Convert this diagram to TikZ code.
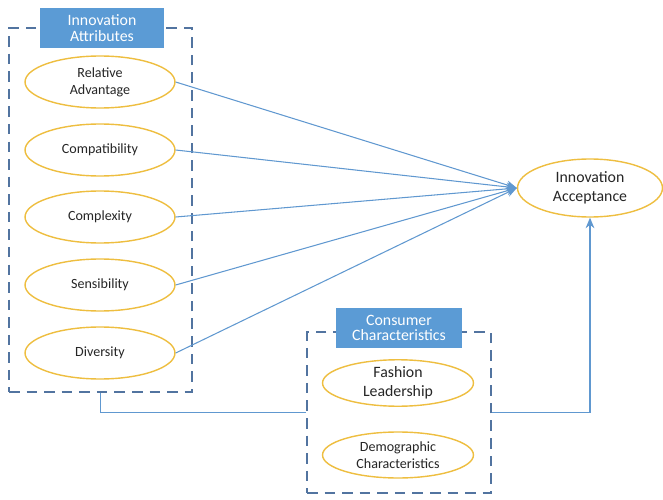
\documentclass[tikz,border=0pt]{standalone}
\usepackage{fontspec}
\setmainfont{Carlito}
\usetikzlibrary{arrows.meta,positioning,shapes.geometric}
\definecolor{ringGold}{RGB}{238,190,64}
\definecolor{linkBlue}{RGB}{96,152,208}
\definecolor{frameBlue}{RGB}{82,116,160}
\definecolor{tagBlue}{RGB}{91,155,213}

\begin{document}
\begin{tikzpicture}[x=0.02cm,y=-0.02cm,
	attr/.style={ellipse,draw=ringGold,thick,fill=white,minimum width=3cm,minimum height=1.04cm,inner sep=0pt,align=center,font=\footnotesize,text=black!85},
	grouptag/.style={fill=tagBlue,text=white,align=center,font=\small,inner sep=0pt,minimum height=0.8cm},
	groupframe/.style={draw=frameBlue,thick,dash pattern=on 6pt off 4pt,minimum width=3.66cm},
	link/.style={draw=linkBlue,semithick,-{Stealth[length=6pt,width=5pt]}}]
		\useasboundingbox (0,0) rectangle (663,500);
		% innovation attributes
		\node[groupframe,minimum height=7.28cm] (attrframe) at (100.5,210) {};
		\node[grouptag,minimum width=2.48cm] (attrtag) at (102,28) {Innovation\\[-2pt]Attributes};
		\node[attr] (relative) at (100,82) {Relative\\Advantage};
		\node[attr] (compat) at (100,150) {Compatibility};
		\node[attr] (complex) at (100,217) {Complexity};
		\node[attr] (sensib) at (100,285) {Sensibility};
		\node[attr] (divers) at (100,353) {Diversity};
		% consumer characteristics
		\node[groupframe,minimum width=3.68cm,minimum height=3.22cm] (consframe) at (399,412.5) {};
		\node[grouptag,minimum width=2.52cm] (constag) at (399,328) {Consumer\\[-2pt]Characteristics};
		\node[attr,font=\small,minimum width=3.02cm,minimum height=0.92cm] (fashion) at (398,383) {Fashion\\Leadership};
		\node[attr,minimum width=3.02cm,minimum height=0.92cm] (demog) at (398,455) {Demographic\\Characteristics};
		% outcome
		\node[attr,font=\small,minimum width=2.9cm,minimum height=1.16cm] (accept) at (590,188) {Innovation\\Acceptance};
		\draw[link] (relative.east) -- (accept.west);
		\draw[link] (compat.east) -- (accept.west);
		\draw[link] (complex.east) -- (accept.west);
		\draw[link] (sensib.east) -- (accept.west);
		\draw[link] (divers.east) -- (accept.west);
		\draw[draw=linkBlue,semithick] (attrframe.south) |- (consframe.west);
		\draw[link] (consframe.east) -| (accept.south);
\end{tikzpicture}
\end{document}
